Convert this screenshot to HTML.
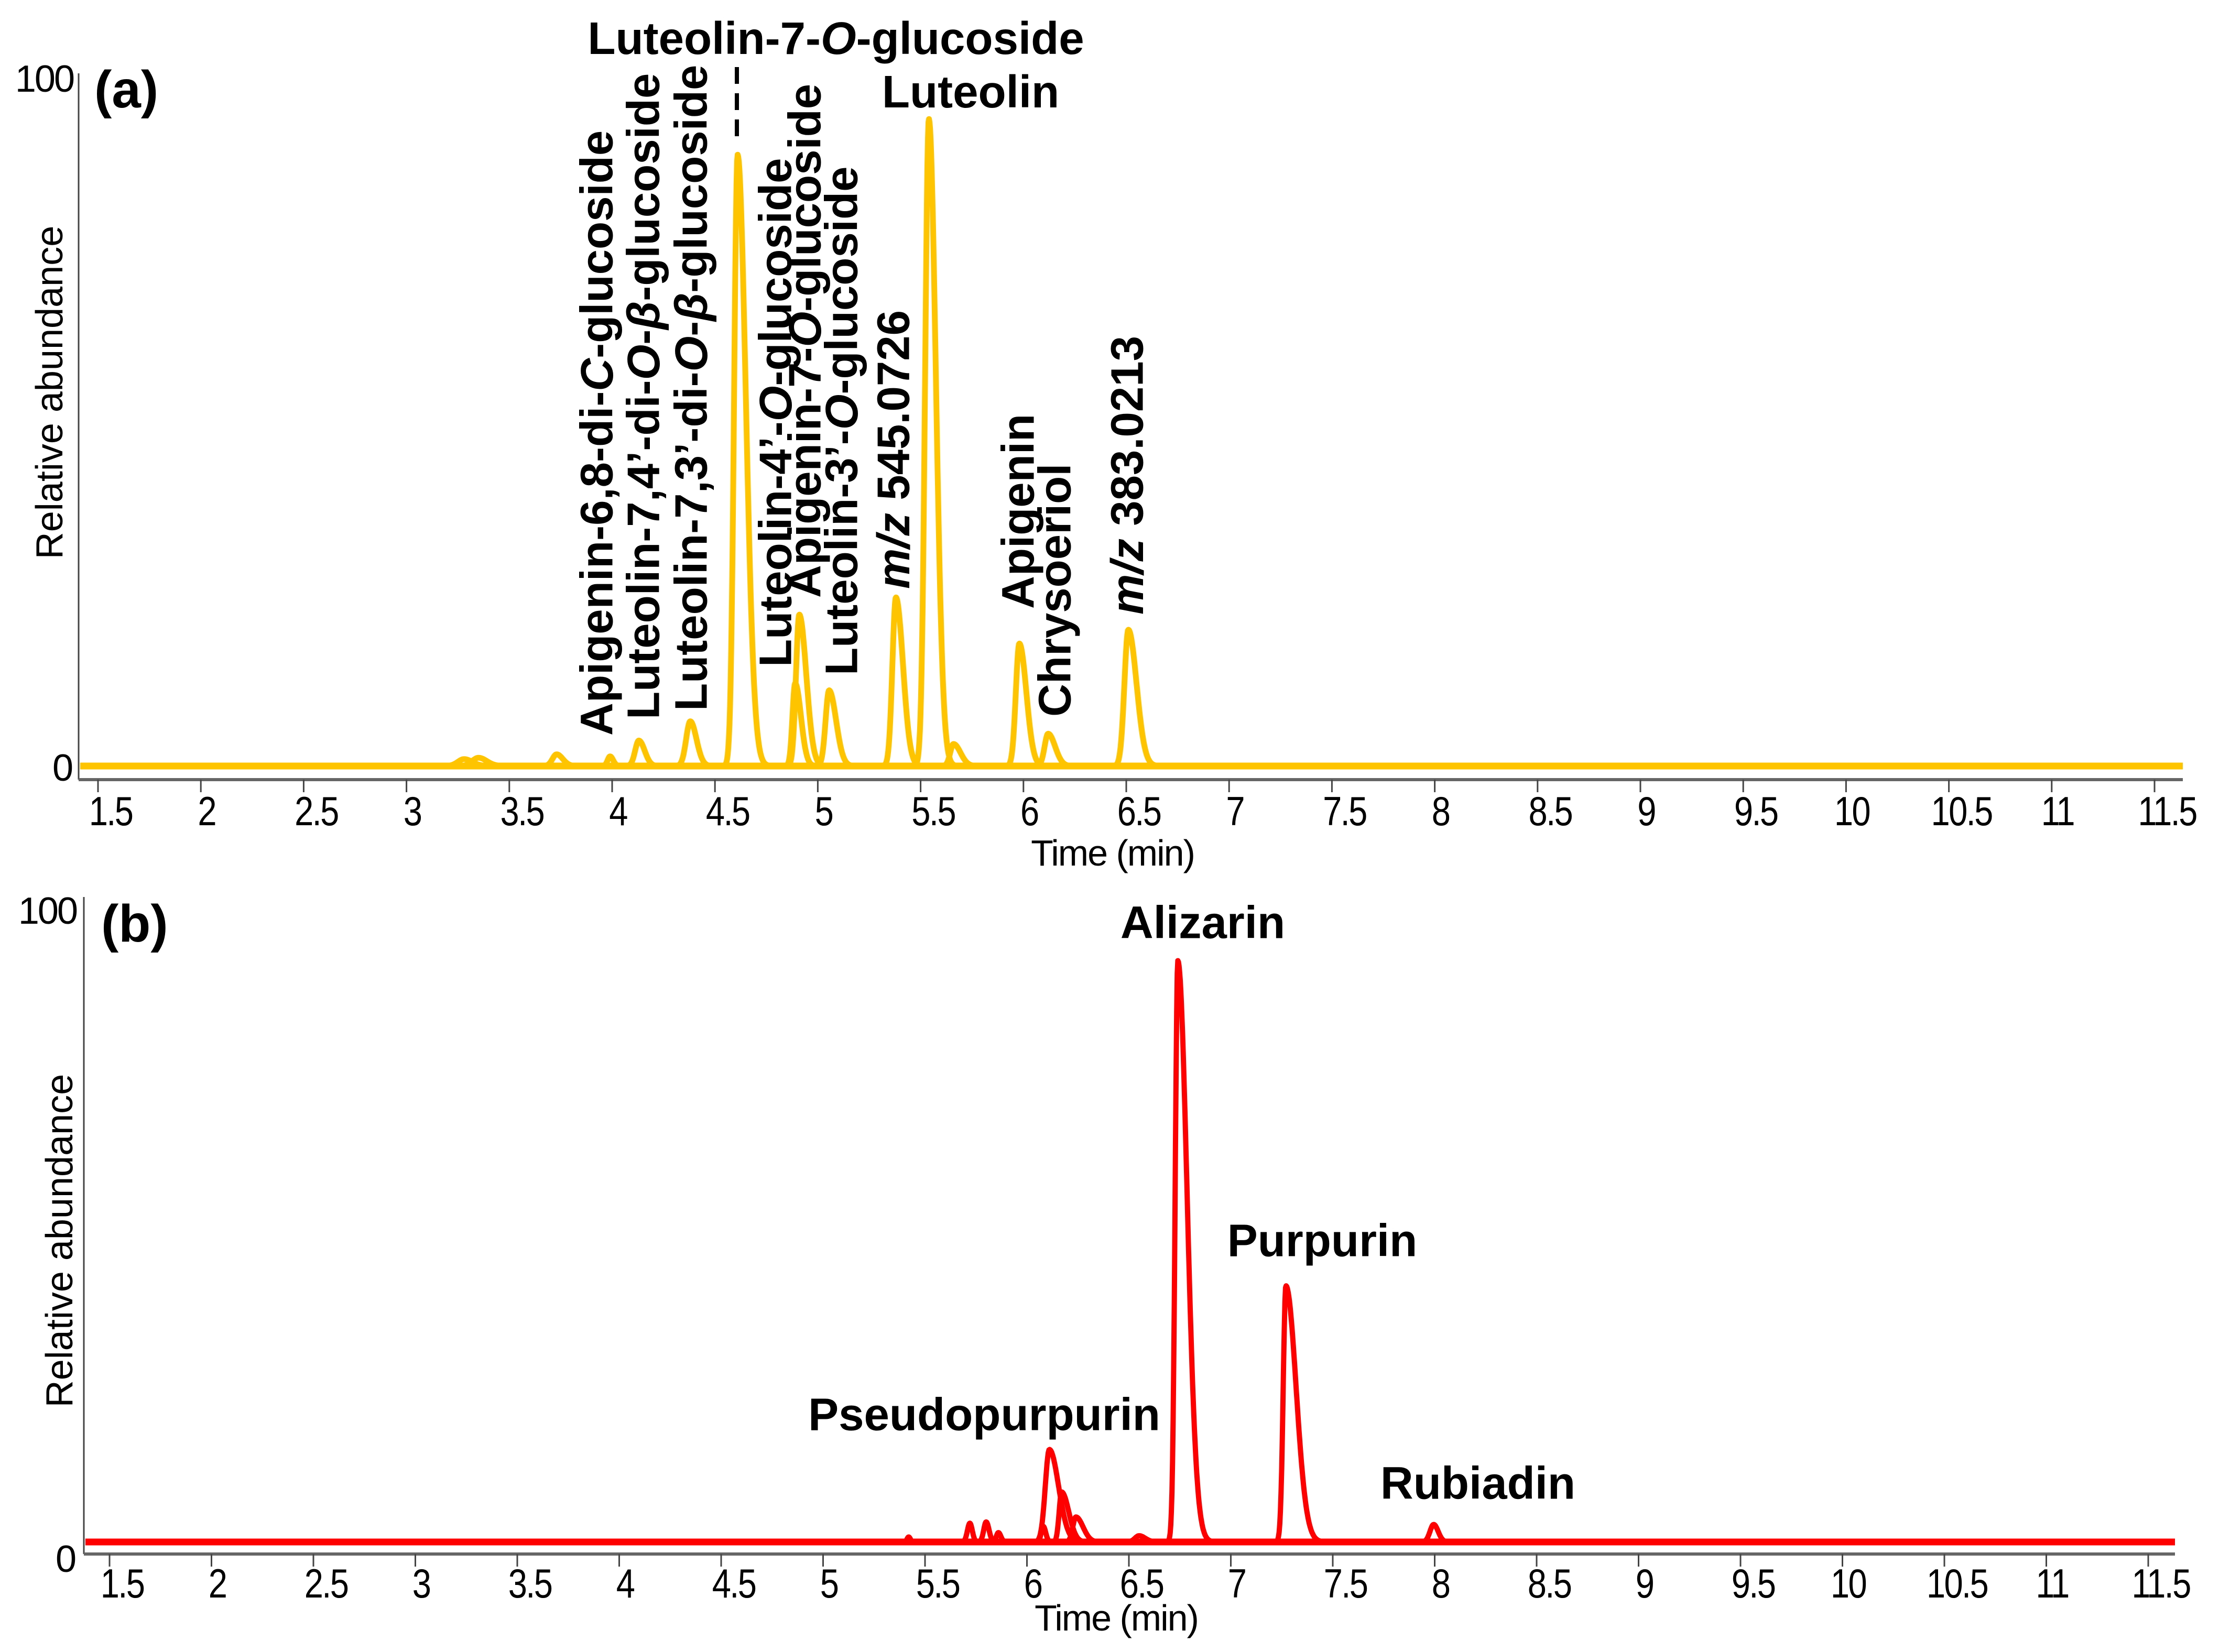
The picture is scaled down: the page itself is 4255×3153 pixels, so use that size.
<!DOCTYPE html>
<html><head><meta charset="utf-8"><style>
html,body{margin:0;padding:0;background:#fff;}
svg{display:block;font-family:"Liberation Sans",sans-serif;}
.tk{font-size:74px;fill:#000;}
.lb{font-size:87px;font-weight:bold;fill:#000;}
</style></head><body>
<svg id="chart" width="4255" height="3153" viewBox="0 0 4255 3153" xmlns="http://www.w3.org/2000/svg">
<g id="pa"></g>
<g id="pb"></g>
</svg>
<script>
// x tick labels
const tickValues = [1.5,2,2.5,3,3.5,4,4.5,5,5.5,6,6.5,7,7.5,8,8.5,9,9.5,10,10.5,11,11.5];
// Panel a peaks (retention time min, relative abundance %, left/right widths)
const aTimes = [3.28,3.35,3.73,3.99,4.13,4.38,4.61,4.89,4.91,5.055,5.38,5.54,5.66,5.98,6.12,6.51];
const aHeights = [1.0,1.2,1.7,1.4,3.7,6.5,88.8,12,22,11,24.5,94,3.2,17.8,4.7,19.8];
const aSigL = [0.03,0.03,0.02,0.012,0.018,0.02,0.017,0.013,0.016,0.017,0.017,0.018,0.016,0.017,0.017,0.019];
const aSigR = [0.04,0.04,0.03,0.015,0.028,0.03,0.04,0.028,0.034,0.034,0.034,0.034,0.034,0.034,0.034,0.04];
// Panel b peaks
const bTimes = [5.42,5.72,5.8,5.86,6.11,6.08,6.17,6.24,6.55,6.74,7.27,7.995];
const bHeights = [0.8,3.0,3.2,1.5,14.8,2.5,8,4,1,93,41,2.8];
const bSigL = [0.008,0.012,0.012,0.01,0.02,0.01,0.012,0.015,0.02,0.013,0.013,0.018];
const bSigR = [0.008,0.012,0.014,0.012,0.045,0.012,0.035,0.035,0.03,0.045,0.05,0.022];

const NS='http://www.w3.org/2000/svg';
function mk(parent,tag,attrs){const e=document.createElementNS(NS,tag);for(const k in attrs)e.setAttribute(k,attrs[k]);parent.appendChild(e);return e;}

function drawPanel(g, cfg, times, heights, sigL, sigR){
  const X = t => cfg.x0 + (t-1.5)*cfg.perMin;
  const Y = v => cfg.yBase - v/100*(cfg.yBase-cfg.y100);
  const ya=mk(g,'line',{x1:cfg.axX,y1:cfg.axTop,x2:cfg.axX,y2:cfg.axY,stroke:'#444','stroke-width':3});
  
  
  const xa=mk(g,'line',{x1:cfg.axX,y1:cfg.axY,x2:cfg.axEnd,y2:cfg.axY,stroke:'#666','stroke-width':6});
  
  
  tickValues.forEach(v=>{
    const tx=X(v);
    const tl=mk(g,'line',{x1:tx,y1:cfg.axY,x2:tx,y2:cfg.axY+24,stroke:'#444','stroke-width':3});
    
    
    const off = Number.isInteger(v)?11:24;
    const tt=mk(g,'text',{x:0,y:0,'text-anchor':'middle',class:'tk','letter-spacing':'-3',transform:`translate(${tx+off},${cfg.tickY}) scale(0.88,1.05)`});
    tt.textContent=String(v);
    
    
  });
  const bl=mk(g,'line',{x1:cfg.axX+3,y1:Y(0),x2:cfg.axEnd,y2:Y(0),stroke:cfg.color,'stroke-width':13});
  
  
  times.forEach((c,i)=>{
    const h=heights[i], sl=sigL[i], sr=sigR[i];
    let d='';
    const t0=c-4*sl, t1=c+4*sr, n=80;
    for(let k=0;k<=n;k++){
      const t=t0+(t1-t0)*k/n;
      const s=t<c?sl:sr;
      const v=h*Math.exp(-0.5*((t-c)/s)**2);
      d+=(k?'L':'M')+X(t).toFixed(1)+','+Y(v).toFixed(1);
    }
    const p=mk(g,'path',{d:d,fill:'none',stroke:cfg.color,'stroke-width':cfg.sw,'stroke-linejoin':'round'});
    
    
  });
}

const pa=document.getElementById('pa'), pb=document.getElementById('pb');
drawPanel(pa,{x0:187,perMin:392.4,yBase:1462,y100:148,axX:150,axTop:140,axY:1488,axEnd:4165,tickY:1575,color:'#FFC400',sw:11},aTimes,aHeights,aSigL,aSigR);
drawPanel(pb,{x0:209,perMin:389,yBase:2943,y100:1750,axX:160,axTop:1712,axY:2966,axEnd:4150,tickY:3049,color:'#FF0000',sw:10},bTimes,bHeights,bSigL,bSigR);

function txt(g,name,s,attrs,cls){const t=mk(g,'text',attrs);if(cls)t.setAttribute('class',cls);t.innerHTML=s;return t;}
txt(pa,'panel-label-a','(a)',{x:180,y:205,'font-size':100,'font-weight':'bold'});
txt(pa,'y-tick-100','100',{x:140,y:175,'text-anchor':'end','font-size':72,'letter-spacing':'-3'});
txt(pa,'y-tick-0','0',{x:140,y:1490,'text-anchor':'end','font-size':72});
txt(pa,'y-axis-title','Relative abundance',{transform:'translate(95,749) rotate(-90)','text-anchor':'middle','dominant-baseline':'central','font-size':72});
txt(pa,'x-axis-title','Time (min)',{x:2123,y:1652,'text-anchor':'middle','font-size':70,'letter-spacing':'-2'});
txt(pa,'label-luteolin-7-o-glucoside','Luteolin-7-<tspan font-style="italic">O</tspan>-glucoside',{x:1595,y:103,'text-anchor':'middle'},'lb');
txt(pa,'label-luteolin','Luteolin',{x:1852,y:205,'text-anchor':'middle'},'lb');
const dl=mk(pa,'line',{x1:1406,y1:128,x2:1406,y2:266,stroke:'#000','stroke-width':8,'stroke-dasharray':'32,18'});


const vlabels=[
 ['label-apigenin-6-8-di-c-glucoside','Apigenin-6,8-di-<tspan font-style="italic">C</tspan>-glucoside',1139,1404],
 ['label-luteolin-7-4-di-o-glucoside','Luteolin-7,4’-di-<tspan font-style="italic">O</tspan>-<tspan font-style="italic">β</tspan>-glucoside',1228,1373],
 ['label-luteolin-7-3-di-o-glucoside','Luteolin-7,3’-di-<tspan font-style="italic">O</tspan>-<tspan font-style="italic">β</tspan>-glucoside',1319,1357],
 ['label-luteolin-4-o-glucoside','Luteolin-4’-<tspan font-style="italic">O</tspan>-glucoside',1480,1273],
 ['label-apigenin-7-o-glucoside','Apigenin-7-<tspan font-style="italic">O</tspan>-glucoside',1536,1141],
 ['label-luteolin-3-o-glucoside','Luteolin-3’-<tspan font-style="italic">O</tspan>-glucoside',1606,1289],
 ['label-mz-545','<tspan font-style="italic">m/z</tspan> 545.0726',1705,1124],
 ['label-apigenin','Apigenin',1943,1162],
 ['label-chrysoeriol','Chrysoeriol',2013,1368],
 ['label-mz-383','<tspan font-style="italic">m/z</tspan> 383.0213',2151,1173]
];
vlabels.forEach(l=>txt(pa,l[0],l[1],{transform:`translate(${l[2]},${l[3]}) rotate(-90)`,'dominant-baseline':'central'},'lb'));
txt(pb,'panel-label-b','(b)',{x:193,y:1797,'font-size':100,'font-weight':'bold'});
txt(pb,'y-tick-100','100',{x:146,y:1763,'text-anchor':'end','font-size':72,'letter-spacing':'-3'});
txt(pb,'y-tick-0','0',{x:146,y:3000,'text-anchor':'end','font-size':72});
txt(pb,'y-axis-title','Relative abundance',{transform:'translate(114,2368) rotate(-90)','text-anchor':'middle','dominant-baseline':'central','font-size':72});
txt(pb,'x-axis-title','Time (min)',{x:2130,y:3112,'text-anchor':'middle','font-size':70,'letter-spacing':'-2'});
txt(pb,'label-alizarin','Alizarin',{x:2295,y:1761,'text-anchor':'middle','dominant-baseline':'central'},'lb');
txt(pb,'label-purpurin','Purpurin',{x:2523,y:2368,'text-anchor':'middle','dominant-baseline':'central'},'lb');
txt(pb,'label-pseudopurpurin','Pseudopurpurin',{x:1878,y:2700,'text-anchor':'middle','dominant-baseline':'central'},'lb');
txt(pb,'label-rubiadin','Rubiadin',{x:2820,y:2831,'text-anchor':'middle','dominant-baseline':'central'},'lb');
</script>
</body></html>
